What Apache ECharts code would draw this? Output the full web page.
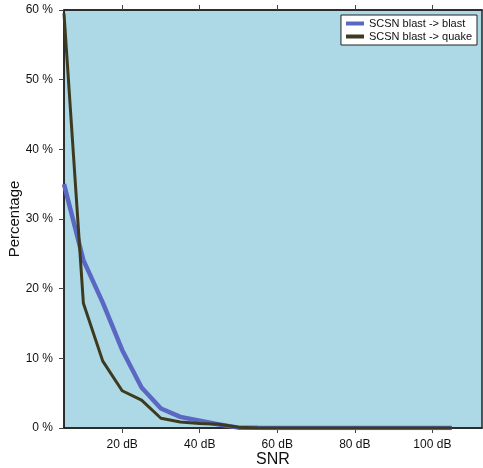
<!DOCTYPE html>
<html><head><meta charset="utf-8">
<script src="https://cdn.jsdelivr.net/npm/echarts@6/dist/echarts.min.js"></script>
<style>html,body{margin:0;padding:0;background:#fff}#c{width:483px;height:468px}</style>
</head><body><div id="c"></div>
<script>
const snr = [5,10,15,20,25,30,35,40,45,50,55,60,65,70,75,80,85,90,95,100,105];
const blastBlast = [35,24.1,18,11.2,5.8,2.8,1.6,1.05,0.5,0.05,0.02,0,0,0,0,0,0,0,0,0,0];
const blastQuake = [59.5,17.9,9.6,5.35,4.0,1.4,0.85,0.65,0.55,0.1,0,0,0,0,0,0,0,0,0,0,0];
const xTicks = [20,40,60,80,100];
const yTicks = [0,10,20,30,40,50,60];
const seriesNames = ['SCSN blast -> blast','SCSN blast -> quake'];
const font = 'Liberation Sans, Arial, Helvetica, sans-serif';
const chart = echarts.init(document.getElementById('c'), null, {renderer:'canvas'});
const pair = (xs, ys) => xs.map((x,i)=>[x, ys[i]]);
chart.setOption({
  animation:false,
  grid:{left:64,right:1,top:10,bottom:40,containLabel:false,outerBoundsMode:'none',show:true,backgroundColor:'#add8e6',borderColor:'#222',borderWidth:1.5},
  legend:{
    right:6, top:15, orient:'vertical', backgroundColor:'#fff', borderColor:'#222', borderWidth:1,
    padding:[3,5,3,5], itemGap:2, itemWidth:18, itemHeight:4, icon:'rect',
    textStyle:{fontFamily:font,fontSize:11,color:'#111'},
    data:seriesNames
  },
  xAxis:[{
    type:'value', min:5, max:112.8, name:'SNR', nameLocation:'middle', nameGap:24, nameMoveOverlap:false,
    nameTextStyle:{fontFamily:font,fontSize:16,color:'#111'},
    axisLine:{show:true,lineStyle:{color:'#222',width:1.5}},
    axisTick:{show:true,length:5,customValues:xTicks,lineStyle:{color:'#444'}},
    axisLabel:{customValues:xTicks,formatter:v=>v+' dB',fontFamily:font,fontSize:12,color:'#111',margin:11},
    splitLine:{show:false}
  },{
    type:'value', position:'top', min:5, max:112.8,
    axisLine:{show:true,lineStyle:{color:'#222',width:1.5}},
    axisTick:{show:true,length:5,customValues:xTicks,lineStyle:{color:'#444'}},
    axisLabel:{show:false}, splitLine:{show:false}
  }],
  yAxis:{
    type:'value', min:0, max:60, interval:10, name:'Percentage', nameLocation:'middle', nameGap:42, nameMoveOverlap:false,
    nameTextStyle:{fontFamily:font,fontSize:15,color:'#111'},
    axisLine:{show:true,lineStyle:{color:'#222',width:1.5}},
    axisTick:{show:true,length:5,lineStyle:{color:'#444'}},
    axisLabel:{formatter:'{value} %',fontFamily:font,fontSize:12,color:'#111',margin:11},
    splitLine:{show:false}
  },
  series:[
    {name:seriesNames[0],type:'line',data:pair(snr,blastBlast),showSymbol:false,symbol:'none',
     lineStyle:{color:'#5b68c3',width:4.5},itemStyle:{color:'#5b68c3'},z:2},
    {name:seriesNames[1],type:'line',data:pair(snr,blastQuake),showSymbol:false,symbol:'none',
     lineStyle:{color:'#3d3a1f',width:3},itemStyle:{color:'#3d3a1f'},z:3}
  ]
});
</script></body></html>
